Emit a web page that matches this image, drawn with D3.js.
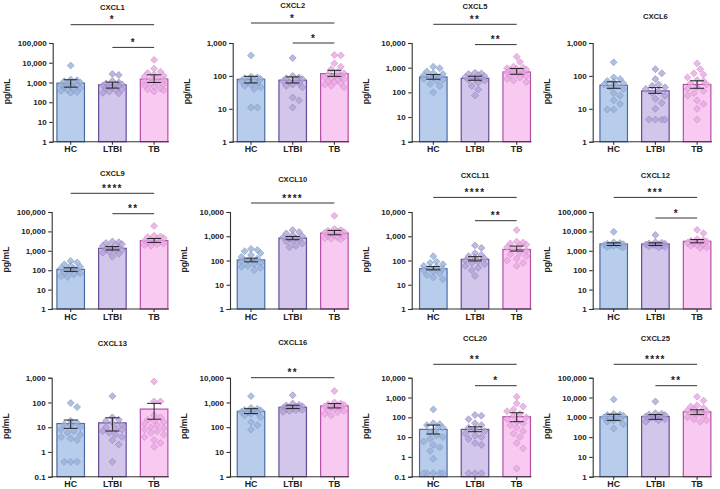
<!DOCTYPE html>
<html><head><meta charset="utf-8">
<script src="https://cdn.jsdelivr.net/npm/d3@7"></script>
<style>
body{margin:0;background:#fff}
svg{display:block}
text{font-family:"Liberation Sans",Arial,sans-serif;font-weight:bold;fill:#222}
</style>
</head><body><svg id="c" width="720" height="489"></svg>
<script>
// ---------- DATA ----------
const panelNames = ["CXCL1","CXCL2","CXCL5","CXCL6","CXCL9","CXCL10","CXCL11","CXCL12","CXCL13","CXCL16","CCL20","CXCL25"];
const groups = ["HC","LTBI","TB"];
const yMin = [1,1,1,1,1,1,1,1,0.1,1,0.1,1];
const yMax = [1e5,1e3,1e4,1e3,1e5,1e4,1e4,1e5,1e3,1e4,1e4,1e5];

const hcMean   = [925,79,420,52,110,106,46,2250,14,440,24.6,1060];
const ltbiMean = [760,74,370,35,1350,840,111,2250,15,640,24.5,1100];
const tbMean   = [1500,117,670,55,3350,1350,286,3100,54,725,107,1900];
const hcLo   = [580,61,340,42,87,88,41,1870,9,355,14.3,700];
const hcHi   = [1370,97,525,66,133,125,56,2570,19.5,560,40.6,1420];
const ltbiLo = [520,61,310,29.5,1100,720,96,1870,7,565,18.7,790];
const ltbiHi = [1040,93,450,44,1650,980,144,2570,24,770,33,1370];
const tbLo   = [1000,97,540,42,2700,1150,245,2570,21,600,60,1370];
const tbHi   = [2450,148,920,71,4300,1740,395,3800,92,900,170,2400];

const hcPoints = [
 [7200,1400,1300,1150,1000,900,850,750,700,650,600,520,480,420,380,330,300],
 [420,95,90,85,80,75,70,65,60,55,50,45,40,11,11],
 [1100,950,700,600,550,500,450,420,400,380,350,320,300,220,180,100],
 [260,90,80,70,65,60,55,50,45,40,30,25,18,14,9.5,9.5],
 [300,250,200,170,150,130,120,110,100,90,80,70,60,50,45],
 [300,270,240,200,170,140,120,100,90,80,70,60,55,50,40],
 [150,90,80,70,60,55,50,45,40,35,30,25,20,17],
 [9500,2700,2500,2300,2200,2100,2000,1900,1800,1700,1600,1500],
 [95,65,18,15,13,12,10,8,7,6,5,4,3.5,3,0.4,0.4,0.4],
 [1800,600,550,500,480,450,420,400,380,350,300,250,160,120,80],
 [250,50,45,40,30,25,18,12,10,8,6,4,3,2,0.8,0.15,0.15,0.15,0.15,0.15],
 [8000,1500,1400,1300,1200,1100,1000,900,800,700,600,450,270]
];
const ltbiPoints = [
 [2700,2400,1200,1000,900,800,750,700,650,600,550,500,450,400,350,300,280],
 [350,100,90,85,80,75,70,65,60,55,50,45,22,18,11],
 [620,580,550,500,450,420,400,380,350,320,300,250,180,130,75],
 [160,120,80,55,50,45,40,35,30,25,20,15,10,4.7,4.7,4.7,4.7],
 [3000,2800,2500,2200,2000,1800,1600,1400,1300,1200,1100,1000,900,800,700,500],
 [1800,1500,1300,1100,1000,900,850,800,700,650,600,500,400,350],
 [420,330,200,170,150,130,120,100,90,80,70,60,50,40,23],
 [6500,2800,2600,2400,2300,2200,2100,2000,1900,1800,1700,1600,1500],
 [180,25,20,18,15,12,10,9,8,7,6,5,4,3,2,0.4],
 [1950,900,800,750,700,650,620,600,580,550,520,500,480,450,420],
 [130,120,80,50,40,30,25,20,15,12,10,8,5,4,0.15,0.15,0.15],
 [6300,1600,1500,1400,1300,1200,1100,1000,950,900,850,800,700,600]
];
const tbPoints = [
 [14000,5000,3500,3000,2500,2200,2000,1800,1500,1300,1100,1000,900,800,700,600,500,450,400,350],
 [430,420,240,190,160,130,120,110,100,95,90,85,80,75,70,65,60,55,50,45],
 [2800,1700,1100,1000,950,900,850,800,750,700,650,600,550,500,450,400,350,300,260],
 [240,160,120,110,90,75,70,60,55,45,40,35,30,25,18,14,10,4.7],
 [19000,6000,5500,5000,4500,4000,3500,3200,3000,2800,2600,2400,2200,2000,1800],
 [7000,2000,1800,1700,1600,1500,1400,1300,1200,1100,1000,950,900,850,800,750],
 [1800,600,550,500,450,400,350,300,250,200,180,150,120,100,80,60],
 [12000,8000,4000,3500,3300,3000,2800,2600,2400,2200,2000,1800,1500,1400],
 [700,110,110,30,25,20,18,16,14,12,10,9,8,7,6,5,4,3,2.3,1.6],
 [2900,1000,900,850,800,750,700,650,600,550,500,450,400,350,300],
 [1100,500,350,250,200,150,120,100,80,60,50,40,30,20,15,10,5,2.7,0.26],
 [11000,7000,4000,3500,3000,2500,2200,2000,1800,1600,1400,1200,1000,800,700,600]
];
// significance labels: HC vs TB, LTBI vs TB
const sigHcTb   = ["*","*","**","","****","****","****","***","","**","**","****"];
const sigLtbiTb = ["*","*","**","","**","","**","*","","","*","**"];

// ---------- LAYOUT ----------
const axisXs = [52.7,232.7,411.7,592.7, 51.7,230,411.7,592.7, 51.7,230,411.7,592.7];
const hcCenters = [70.7,251,433.3,613.7];
const rowTop = [43,212,377.7], rowBottom = [141.7,309,476.7];
const titleY = [6.7,5,6,16, 173.3,179.3,175,175, 343.3,342.3,338.3,338.3];
const line1Off = [-18.3,-20,-18.7,null,-18.7,-9,-14.6,-14.6,null,0,-13.4,-13.4];
const line2Off = [4.4,0,1.6,null,1.7,null,8.7,6,null,null,8,8];
const step = 41.7, barW = 27.5;

const barFill   = {HC:"#b8cdeb", LTBI:"#d2c6ea", TB:"#f8caf2"};
const barStroke = {HC:"#4a6ca6", LTBI:"#664c98", TB:"#b64ea8"};
const ptFill    = {HC:"#9bb1da", LTBI:"#b2a4d6", TB:"#e8a8e2"};
const ptStroke  = {HC:"#7d95c4", LTBI:"#9180bd", TB:"#d28ac9"};

const svg = d3.select("#c");
const fmt = v => v >= 1 ? d3.format(",")(v) : String(v);
const diamond = d3.symbol().type(d3.symbolSquare).size(24);

function swarm(vals, y, maxOff, diam) {
  const order = vals.map((v,i)=>i).sort((a,b)=>vals[b]-vals[a]);
  const cands = [0];
  for (let k=1; k*3.2 <= maxOff; k++) { cands.push(k*3.2, -k*3.2); }
  const placed = [], offs = new Array(vals.length);
  order.forEach(i => {
    const yy = y(vals[i]);
    let best = 0, bestD = -1;
    for (const c of cands) {
      let md = Infinity;
      for (const p of placed) { const d = Math.hypot(p.x-c, p.y-yy); if (d < md) md = d; }
      if (md >= diam) { best = c; bestD = Infinity; break; }
      if (md > bestD) { bestD = md; best = c; }
    }
    offs[i] = best; placed.push({x:best, y:yy});
  });
  return offs;
}

panelNames.forEach((name, p) => {
  const row = Math.floor(p/4), col = p%4;
  const ax = axisXs[p], c0 = hcCenters[col];
  const g = svg.append("g");
  const x = d3.scaleBand().domain(groups)
    .range([c0 - step/2, c0 + 2.5*step]).paddingInner(0.34).paddingOuter(0.17);
  const y = d3.scaleLog().domain([yMin[p], yMax[p]]).range([rowBottom[row], rowTop[row]]);
  const yb = rowBottom[row];
  const means = [hcMean[p], ltbiMean[p], tbMean[p]];
  const los = [hcLo[p], ltbiLo[p], tbLo[p]];
  const his = [hcHi[p], ltbiHi[p], tbHi[p]];
  const pts = [hcPoints[p], ltbiPoints[p], tbPoints[p]];

  // bars
  groups.forEach((gr, i) => {
    g.append("rect").attr("x", x(gr)).attr("width", x.bandwidth())
      .attr("y", y(means[i])).attr("height", yb - y(means[i]))
      .attr("fill", barFill[gr]).attr("stroke", barStroke[gr]).attr("stroke-width", 1.2);
  });
  // points
  groups.forEach((gr, i) => {
    const cx = x(gr) + x.bandwidth()/2;
    const offs = swarm(pts[i], y, 10.5, 6.2);
    g.append("g").selectAll("path").data(pts[i]).join("path")
      .attr("d", diamond)
      .attr("transform", (d,j) => `translate(${cx+offs[j]},${y(d)}) rotate(45)`)
      .attr("fill", ptFill[gr]).attr("fill-opacity", 0.8)
      .attr("stroke", ptStroke[gr]).attr("stroke-width", 0.6).attr("stroke-opacity", 0.9);
  });
  // error bars
  groups.forEach((gr, i) => {
    const cx = x(gr) + x.bandwidth()/2, hw = 7;
    const e = g.append("g").attr("stroke", "#222").attr("stroke-width", 1).attr("fill","none");
    e.append("line").attr("x1", cx).attr("x2", cx).attr("y1", y(los[i])).attr("y2", y(his[i]));
    e.append("line").attr("x1", cx-hw).attr("x2", cx+hw).attr("y1", y(los[i])).attr("y2", y(los[i]));
    e.append("line").attr("x1", cx-hw).attr("x2", cx+hw).attr("y1", y(his[i])).attr("y2", y(his[i]));
  });

  // y axis
  const tv = [];
  for (let v = yMin[p]; v <= yMax[p]*1.0001; v *= 10) tv.push(+v.toPrecision(3));
  const yAxis = d3.axisLeft(y).tickValues(tv).tickFormat(fmt).tickSize(3.5).tickPadding(2.5);
  const ya = g.append("g").attr("transform", `translate(${ax},0)`).call(yAxis);
  ya.select(".domain").attr("stroke", "#333").attr("stroke-width", 1.1);
  ya.selectAll(".tick line").attr("stroke", "#333").attr("stroke-width", 1.1);
  ya.selectAll(".tick text").attr("font-size", 8).attr("font-family", null).style("font-weight","bold").attr("fill","#222");

  // x axis
  const xEnd = x("TB") + x.bandwidth() + 1;
  const xa = g.append("g").attr("transform", `translate(0,${yb})`);
  xa.append("line").attr("x1", ax).attr("x2", xEnd).attr("y1", 0).attr("y2", 0)
    .attr("stroke", "#333").attr("stroke-width", 1.1);
  groups.forEach(gr => {
    const cx = x(gr) + x.bandwidth()/2;
    xa.append("line").attr("x1", cx).attr("x2", cx).attr("y1", 0).attr("y2", 3)
      .attr("stroke", "#333").attr("stroke-width", 1.1);
    xa.append("text").attr("x", cx).attr("y", 10.8).attr("text-anchor", "middle")
      .attr("font-size", 8.8).text(gr);
  });

  // y label
  g.append("text").attr("transform", `translate(${ax-43},${(rowTop[row]+yb)/2 - 1}) rotate(-90)`)
    .attr("text-anchor", "middle").attr("font-size", 8.6).text("pg/mL");

  // title
  const mid = x("LTBI") + x.bandwidth()/2;
  g.append("text").attr("x", mid).attr("y", titleY[p] + 2.8).attr("text-anchor", "middle")
    .attr("font-size", 7.6).text(name);

  // significance brackets
  const cHC = x("HC") + x.bandwidth()/2, cL = x("LTBI") + x.bandwidth()/2, cTB = x("TB") + x.bandwidth()/2;
  const drawSig = (x1, x2, ly, lab) => {
    g.append("line").attr("x1", x1).attr("x2", x2).attr("y1", ly).attr("y2", ly)
      .attr("stroke", "#333").attr("stroke-width", 1);
    g.append("text").attr("x", (x1+x2)/2).attr("y", ly - 1.3).attr("text-anchor", "middle")
      .attr("font-size", 10).attr("letter-spacing", 1.3).text(lab);
  };
  if (sigHcTb[p]) drawSig(cHC, cTB, rowTop[row] + line1Off[p], sigHcTb[p]);
  if (sigLtbiTb[p]) drawSig(cL, cTB, rowTop[row] + line2Off[p], sigLtbiTb[p]);
});
</script></body></html>
